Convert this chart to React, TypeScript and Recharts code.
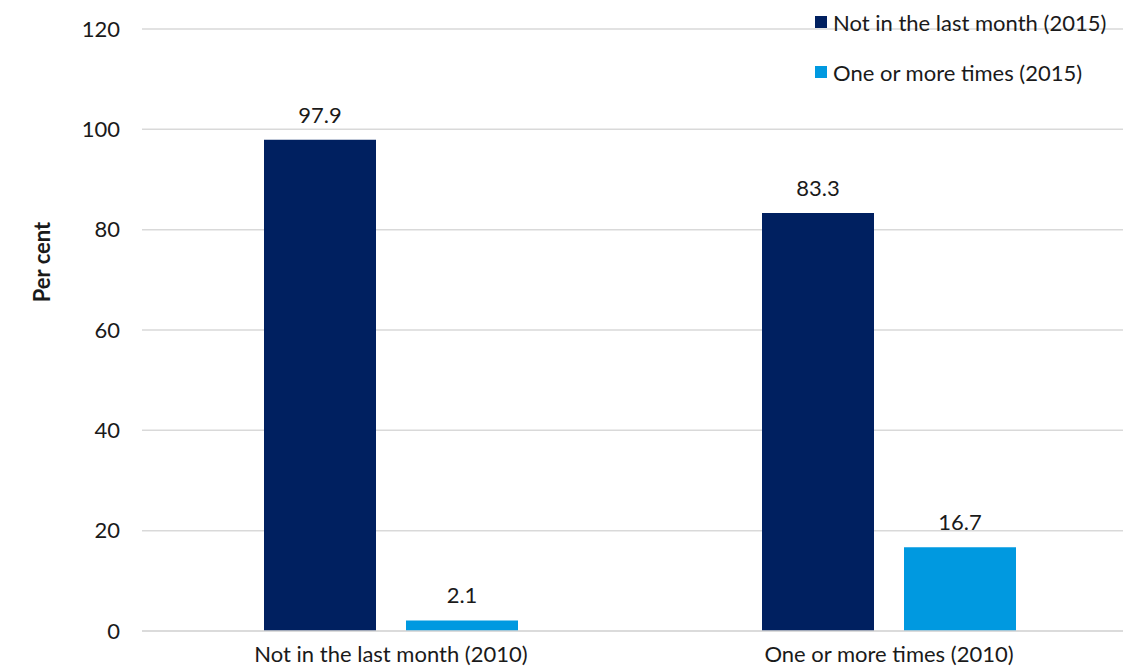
import React from "react";
import { BarChart, Bar, XAxis, YAxis, CartesianGrid, Legend, LabelList, Label } from "recharts";

const categories = ["Not in the last month (2010)", "One or more times (2010)"];
const notLastMonth2015 = [97.9, 83.3];
const oneOrMore2015 = [2.1, 16.7];
const yTicks = [0, 20, 40, 60, 80, 100, 120];
const seriesNames = ["Not in the last month (2015)", "One or more times (2015)"];
const seriesColors = ["#002060", "#0099e0"];

const data = categories.map((c, i) => ({ cat: c, a: notLastMonth2015[i], b: oneOrMore2015[i] }));

const FONT = "Lato, 'Open Sans', sans-serif";
const TXT = "#1a1a1a";
const FS = 22;

const LegendContent = () => (
  <div style={{ fontFamily: FONT, fontSize: FS, color: TXT }}>
    {seriesNames.map((n, i) => (
      <div key={n} style={{ display: "flex", alignItems: "center", height: 50, whiteSpace: "nowrap" }}>
        <span style={{ width: 12, height: 12, background: seriesColors[i], marginRight: 6, display: "inline-block" }} />
        <span>{n}</span>
      </div>
    ))}
  </div>
);

export default function App() {
  return (
    <div style={{ position: "absolute", top: 0, left: 0, width: 1123, height: 672, overflow: "hidden", background: "#fff" }}>
      <BarChart
        width={1140}
        height={672}
        data={data}
        margin={{ top: 29, right: 2, bottom: 0, left: 0 }}
        barCategoryGap={122}
        barGap={30}
      >
        <CartesianGrid vertical={false} stroke="#d9d9d9" strokeWidth={1.5} />
        <XAxis
          dataKey="cat"
          height={41}
          tickLine={false}
          tickSize={0}
          tickMargin={15}
          axisLine={{ stroke: "#d9d9d9", strokeWidth: 1.5 }}
          tick={{ fontFamily: FONT, fontSize: FS, fill: TXT }}
        />
        <YAxis
          domain={[0, 120]}
          ticks={yTicks}
          width={142}
          axisLine={false}
          tickLine={false}
          tickSize={0}
          tickMargin={22}
          tick={{ fontFamily: FONT, fontSize: FS, fill: TXT }}
        >
          <Label
            content={(props: any) => {
              const vb = props.viewBox || {};
              const x = (vb.x || 0) + 41;
              const y = (vb.y || 0) + 233;
              return (
                <text
                  x={x}
                  y={y}
                  transform={`rotate(-90, ${x}, ${y})`}
                  textAnchor="middle"
                  dominantBaseline="central"
                  fontFamily={FONT}
                  fontSize={22}
                  fontWeight="bold"
                  fill={TXT}
                >
                  Per cent
                </text>
              );
            }}
          />
        </YAxis>
        <Legend
          content={<LegendContent />}
          layout="horizontal"
          verticalAlign="middle"
          align="center"
          wrapperStyle={{ top: -3, left: 815, width: 320 }}
        />
        <Bar dataKey="a" name={seriesNames[0]} fill={seriesColors[0]} isAnimationActive={false}>
          <LabelList dataKey="a" position="top" offset={17} style={{ fontFamily: FONT, fontSize: FS, fill: TXT }} />
        </Bar>
        <Bar dataKey="b" name={seriesNames[1]} fill={seriesColors[1]} isAnimationActive={false}>
          <LabelList dataKey="b" position="top" offset={17} style={{ fontFamily: FONT, fontSize: FS, fill: TXT }} />
        </Bar>
      </BarChart>
    </div>
  );
}
